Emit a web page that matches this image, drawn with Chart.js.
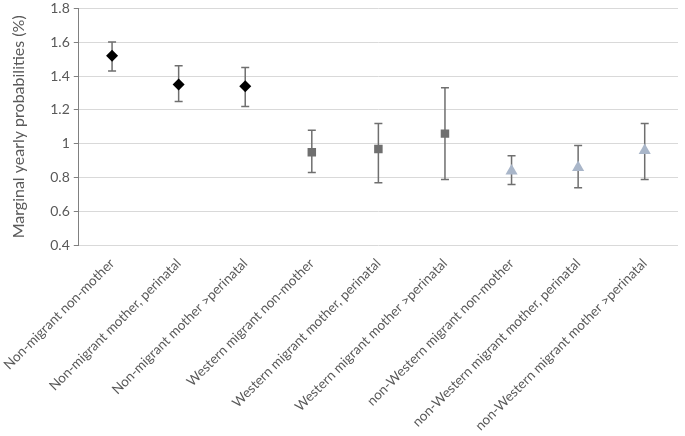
<!DOCTYPE html>
<html>
<head>
<meta charset="utf-8">
<script src="https://cdn.jsdelivr.net/npm/chart.js@4.4.1/dist/chart.umd.min.js"></script>
<style>
    html, body { margin: 0; padding: 0; background: #ffffff; }
    #wrap { width: 685px; height: 436px; }
</style>
</head>
<body>
<div id="wrap"><canvas id="probChart"></canvas></div>
<script>
// categories on the x axis
const categories = [
    'Non-migrant non-mother',
    'Non-migrant mother, perinatal',
    'Non-migrant mother >perinatal',
    'Western migrant non-mother',
    'Western migrant mother, perinatal',
    'Western migrant mother >perinatal',
    'non-Western migrant non-mother',
    'non-Western migrant mother, perinatal',
    'non-Western migrant mother >perinatal'
];

// point estimates, one array per group (null where the group has no point)
const nonMigrant = [1.52, 1.35, 1.34, null, null, null, null, null, null];
const westernMigrant = [null, null, null, 0.95, 0.97, 1.06, null, null, null];
const nonWesternMigrant = [null, null, null, null, null, null, 0.84, 0.86, 0.96];

// confidence interval bounds per category
const lowerCI = [1.43, 1.25, 1.22, 0.83, 0.77, 0.79, 0.76, 0.74, 0.79];
const upperCI = [1.60, 1.46, 1.45, 1.08, 1.12, 1.33, 0.93, 0.99, 1.12];

// y axis ticks
const yMin = 0.4;
const yMax = 1.8;
const yStep = 0.2;

const labelFont = 'Lato, "Liberation Sans", sans-serif';
const textColor = '#595959';

// draws the whiskers behind the markers
const errorBars = {
    id: 'errorBars',
    beforeDatasetsDraw(chart) {
        const ctx = chart.ctx;
        const xs = chart.scales.x;
        const ys = chart.scales.y;
        ctx.save();
        ctx.strokeStyle = '#6f6f6f';
        ctx.lineWidth = 1.5;
        for (let i = 0; i < categories.length; i++) {
            const x = xs.getPixelForTick(i);
            const top = ys.getPixelForValue(upperCI[i]);
            const bottom = ys.getPixelForValue(lowerCI[i]);
            ctx.beginPath();
            ctx.moveTo(x, top);
            ctx.lineTo(x, bottom);
            ctx.moveTo(x - 4, top);
            ctx.lineTo(x + 4, top);
            ctx.moveTo(x - 4, bottom);
            ctx.lineTo(x + 4, bottom);
            ctx.stroke();
        }
        ctx.restore();
    }
};

const data = {
    labels: categories,
    datasets: [{
        label: 'Non-migrant',
        data: nonMigrant,
        showLine: false,
        pointStyle: 'rectRot',
        pointRadius: 6,
        pointBackgroundColor: '#000000',
        pointBorderColor: '#000000',
        pointBorderWidth: 0
    }, {
        label: 'Western migrant',
        data: westernMigrant,
        showLine: false,
        pointStyle: 'rect',
        pointRadius: 6,
        pointBackgroundColor: '#6f6f6f',
        pointBorderColor: '#6f6f6f',
        pointBorderWidth: 0
    }, {
        label: 'non-Western migrant',
        data: nonWesternMigrant,
        showLine: false,
        pointStyle: 'triangle',
        pointRadius: 7,
        pointBackgroundColor: '#a9b6c9',
        pointBorderColor: '#a9b6c9',
        pointBorderWidth: 0
    }]
};

const config = {
    type: 'line',
    data: data,
    plugins: [errorBars],
    options: {
        responsive: true,
        maintainAspectRatio: false,
        animation: false,
        layout: {
            padding: { top: 0, right: 3, left: -2, bottom: 0 }
        },
        plugins: {
            legend: { display: false },
            tooltip: { enabled: false }
        },
        scales: {
            x: {
                offset: true,
                grid: { display: false },
                border: { display: false },
                ticks: {
                    autoSkip: false,
                    maxRotation: 45,
                    minRotation: 45,
                    color: textColor,
                    padding: 2,
                    font: { family: labelFont, size: 13.5 }
                }
            },
            y: {
                min: yMin,
                max: yMax,
                ticks: {
                    stepSize: yStep,
                    color: textColor,
                    padding: 4,
                    font: { family: labelFont, size: 14, lineHeight: 0.6 },
                    callback: value => String(Number(value.toFixed(1)))
                },
                grid: {
                    color: '#d9d9d9',
                    tickColor: '#808080',
                    tickLength: 5
                },
                border: { color: '#808080', width: 1 },
                title: {
                    display: true,
                    text: 'Marginal yearly probabilities (%)',
                    color: textColor,
                    padding: { top: 8, bottom: 18 },
                    font: { family: labelFont, size: 16 }
                }
            }
        }
    }
};

// Render the chart
const probChart = new Chart(document.getElementById('probChart'), config);
</script>
</body>
</html>
